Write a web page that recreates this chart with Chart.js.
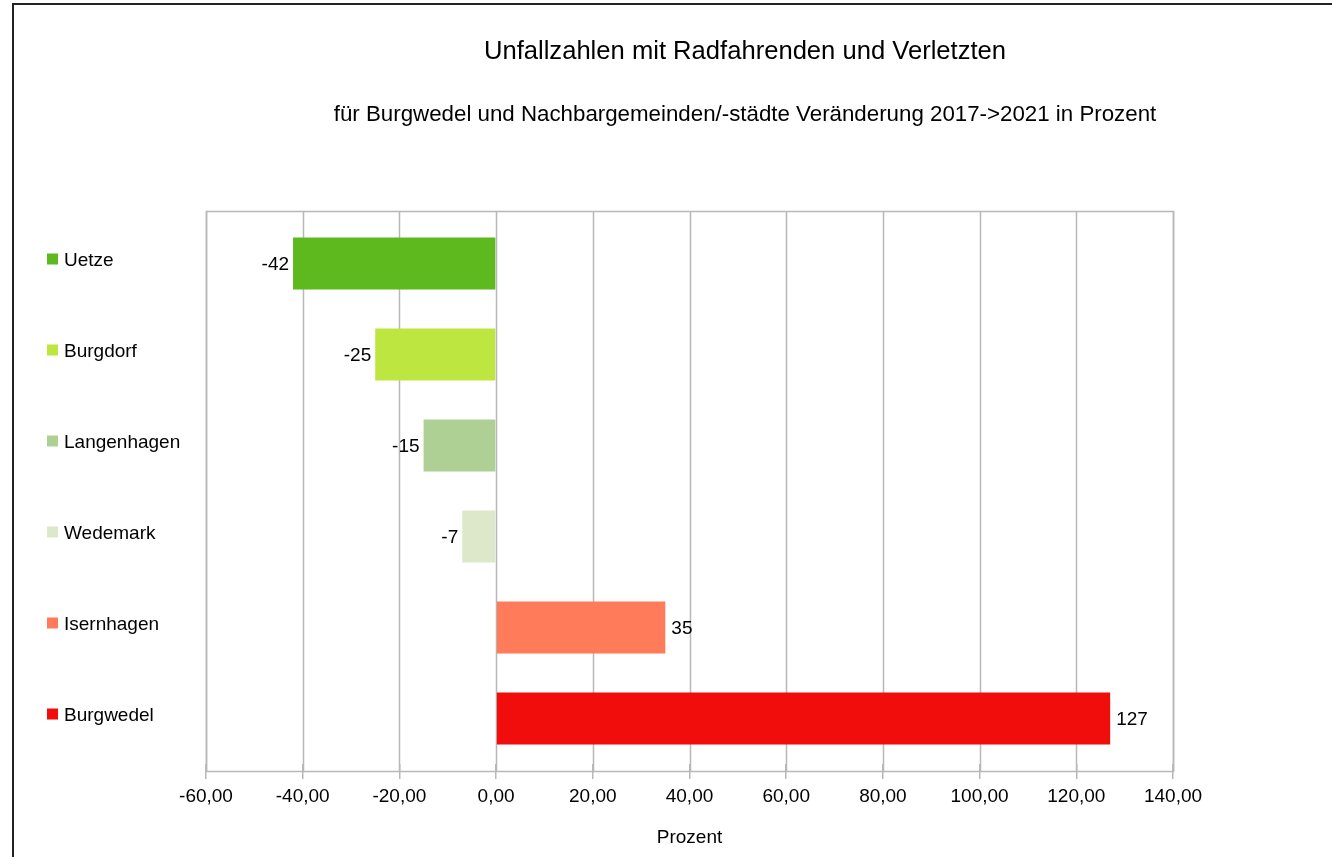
<!DOCTYPE html>
<html>
<head>
<meta charset="utf-8">
<script src="https://cdn.jsdelivr.net/npm/chart.js@4/dist/chart.umd.min.js"></script>
<style>
  body { margin: 0; background: #fff; }
  #wrap { width: 1332px; height: 857px; position: relative; }
</style>
</head>
<body>
<div id="wrap"><canvas id="chartUnfall"></canvas></div>
<script>
const orte = ["Uetze", "Burgdorf", "Langenhagen", "Wedemark", "Isernhagen", "Burgwedel"];
const veraenderung = [-42, -25, -15, -7, 35, 127];
const farben = ["#5eb91e", "#bde640", "#afd095", "#dde8cb", "#ff7b59", "#f10d0c"];
const titel = "Unfallzahlen mit Radfahrenden und Verletzten";
const untertitel = "für Burgwedel und Nachbargemeinden/-städte Veränderung 2017->2021 in Prozent";
const achsenTitel = "Prozent";

const schrift = "'Liberation Sans', Arial, sans-serif";

// frame, plot box, gridlines, labels, titles
const extras = {
  id: "extras",
  beforeDraw(chart) {
    const ctx = chart.ctx;
    ctx.save();
    ctx.fillStyle = "#fff";
    ctx.fillRect(0, 0, chart.width, chart.height);
    ctx.strokeStyle = "#222";
    ctx.lineWidth = 2;
    ctx.beginPath();
    ctx.moveTo(13, chart.height);
    ctx.lineTo(13, 4);
    ctx.lineTo(chart.width, 4);
    ctx.stroke();
    ctx.restore();
  },
  beforeDatasetsDraw(chart) {
    const ctx = chart.ctx;
    const x = chart.scales.x;
    const area = chart.chartArea;
    const top = area.top - 7;
    const bottom = area.bottom + 7;
    ctx.save();
    ctx.strokeStyle = "#b8b8b8";
    ctx.lineWidth = 1.5;
    x.ticks.forEach((t, i) => {
      const px = Math.round(x.getPixelForTick(i)) + 0.5;
      ctx.beginPath();
      ctx.moveTo(px, top);
      ctx.lineTo(px, bottom);
      ctx.stroke();
    });
    ctx.strokeRect(Math.round(area.left) + 0.5, top + 0.5, Math.round(area.right - area.left), bottom - top);
    ctx.restore();
  },
  afterDatasetsDraw(chart) {
    const ctx = chart.ctx;
    const meta = chart.getDatasetMeta(0);
    const y = chart.scales.y;
    ctx.save();
    ctx.font = "19px " + schrift;
    ctx.fillStyle = "#000";
    ctx.textBaseline = "middle";
    meta.data.forEach((bar, i) => {
      const v = veraenderung[i];
      if (v < 0) {
        ctx.textAlign = "right";
        ctx.fillText(String(v), bar.x - 4, bar.y + 1);
      } else {
        ctx.textAlign = "left";
        ctx.fillText(String(v), bar.x + 6, bar.y + 1);
      }
    });
    // legend squares next to the category labels
    orte.forEach((o, i) => {
      const py = y.getPixelForTick(i);
      ctx.fillStyle = farben[i];
      ctx.fillRect(47, py - 10, 11, 11);
    });
    // titles
    ctx.fillStyle = "#000";
    ctx.textAlign = "center";
    ctx.font = "25.6px " + schrift;
    ctx.fillText(titel, 745, 52);
    ctx.font = "22.3px " + schrift;
    ctx.fillText(untertitel, 745, 115);
    ctx.restore();
  }
};

new Chart(document.getElementById("chartUnfall"), {
  type: "bar",
  data: {
    labels: orte,
    datasets: [
      {
        label: "Veränderung",
        data: veraenderung,
        backgroundColor: farben,
        borderWidth: 0,
        barPercentage: 0.57,
        categoryPercentage: 1,
      },
    ],
  },
  options: {
    indexAxis: "y",
    responsive: true,
    maintainAspectRatio: false,
    animation: false,
    layout: {
      padding: { top: 218, right: 159, left: 64, bottom: 0 },
    },
    plugins: {
      legend: { display: false },
      tooltip: { enabled: false },
    },
    scales: {
      x: {
        min: -60,
        max: 140,
        afterFit(scale) {
          scale.height = 93;
        },
        ticks: {
          stepSize: 20,
          color: "#000",
          padding: 6,
          font: { family: schrift, size: 19 },
          callback: (v) => v.toFixed(2).replace(".", ","),
        },
        grid: {
          drawOnChartArea: false,
          drawTicks: true,
          tickLength: 15,
          color: "#b8b8b8",
          lineWidth: 1.5,
        },
        border: { display: false },
        title: {
          display: true,
          text: achsenTitel,
          color: "#000",
          font: { family: schrift, size: 19 },
          padding: { top: 0, bottom: 8 },
        },
      },
      y: {
        afterFit(scale) {
          scale.width = 142;
        },
        ticks: {
          crossAlign: "far",
          color: "#000",
          padding: 0,
          labelOffset: -3,
          font: { family: schrift, size: 19 },
        },
        grid: { display: false },
        border: { display: false },
      },
    },
  },
  plugins: [extras],
});
</script>
</body>
</html>
